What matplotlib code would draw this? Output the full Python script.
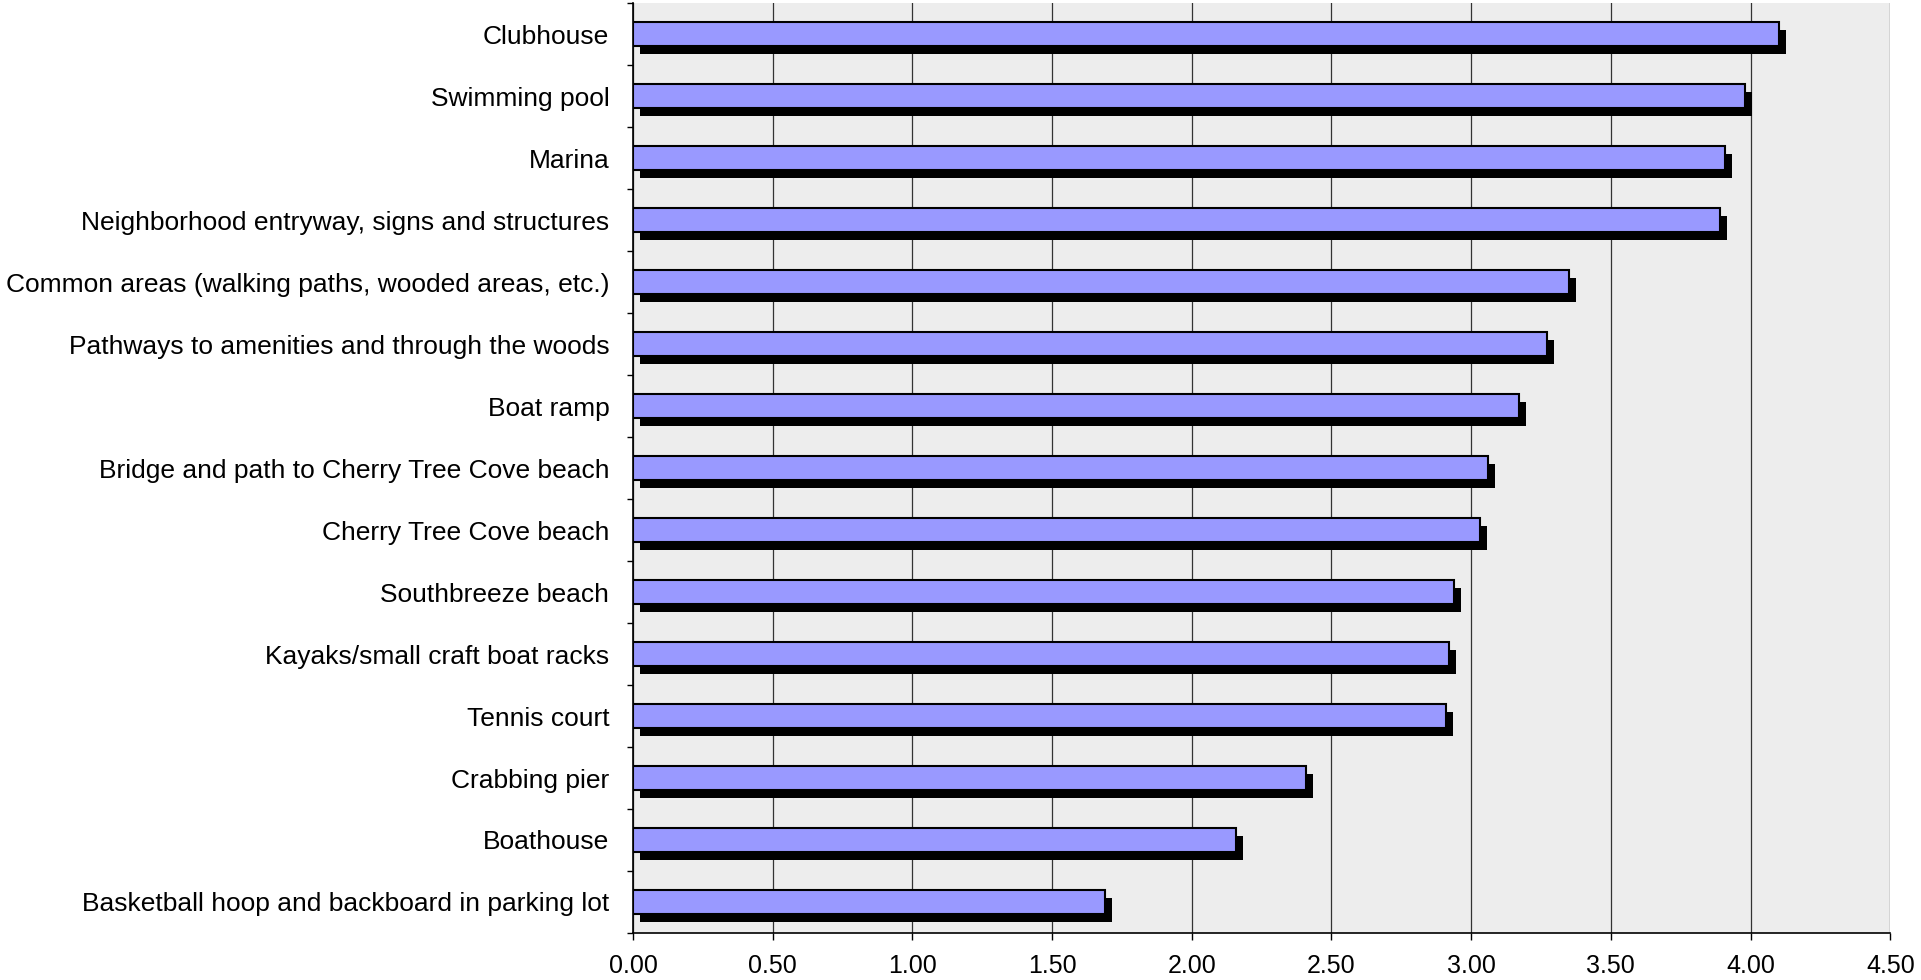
import matplotlib

matplotlib.use("Agg")
import matplotlib.pyplot as plt
import matplotlib.transforms as mtransforms
import numpy as np

amenities = [
    "Clubhouse",
    "Swimming pool",
    "Marina",
    "Neighborhood entryway, signs and structures",
    "Common areas (walking paths, wooded areas, etc.)",
    "Pathways to amenities and through the woods",
    "Boat ramp",
    "Bridge and path to Cherry Tree Cove beach",
    "Cherry Tree Cove beach",
    "Southbreeze beach",
    "Kayaks/small craft boat racks",
    "Tennis court",
    "Crabbing pier",
    "Boathouse",
    "Basketball hoop and backboard in parking lot",
]
mean_rating = [4.10, 3.98, 3.91, 3.89, 3.35, 3.27, 3.17, 3.06, 3.03,
               2.94, 2.92, 2.91, 2.41, 2.16, 1.69]
x_ticks = [0.0, 0.5, 1.0, 1.5, 2.0, 2.5, 3.0, 3.5, 4.0, 4.5]

plt.rcParams["font.family"] = ["Liberation Sans", "DejaVu Sans"]

fig = plt.figure(figsize=(19.21, 9.80), dpi=100)
ax = fig.add_axes([0.3295, 0.048, 0.6545, 0.9486])

y = np.arange(len(amenities))[::-1]
bar_h = 0.39

# drop shadow: same bars, shifted right and down by a few pixels
shadow = ax.transData + mtransforms.ScaledTranslation(7 / 100, -8 / 100, fig.dpi_scale_trans)
ax.barh(y, mean_rating, height=bar_h, color="black", edgecolor="black",
        linewidth=0, transform=shadow, zorder=2)
ax.barh(y, mean_rating, height=bar_h, color="#9999FF", edgecolor="black",
        linewidth=1.5, zorder=3)

ax.set_xlim(0, 4.5)
ax.set_ylim(-0.5, len(amenities) - 0.5)
ax.set_facecolor("#EDEDED")

ax.set_xticks(x_ticks)
ax.set_xticklabels([f"{t:.2f}" for t in x_ticks], fontsize=18)
ax.xaxis.grid(True, color="#333333", linewidth=0.9, zorder=1)
ax.set_axisbelow(True)

ax.set_yticks(y)
ax.set_yticklabels(amenities, fontsize=19)
ax.set_yticks(np.arange(-0.5, len(amenities)), minor=True)
ax.tick_params(axis="y", which="major", length=0, pad=17)
ax.tick_params(axis="y", which="minor", length=4.5, width=1, direction="out")
ax.tick_params(axis="x", length=5, width=1, direction="out", pad=10)

for side in ("top", "right"):
    ax.spines[side].set_visible(False)
ax.spines["left"].set_linewidth(1.2)
ax.spines["bottom"].set_linewidth(1.2)

fig.savefig("out.png", dpi=100)
